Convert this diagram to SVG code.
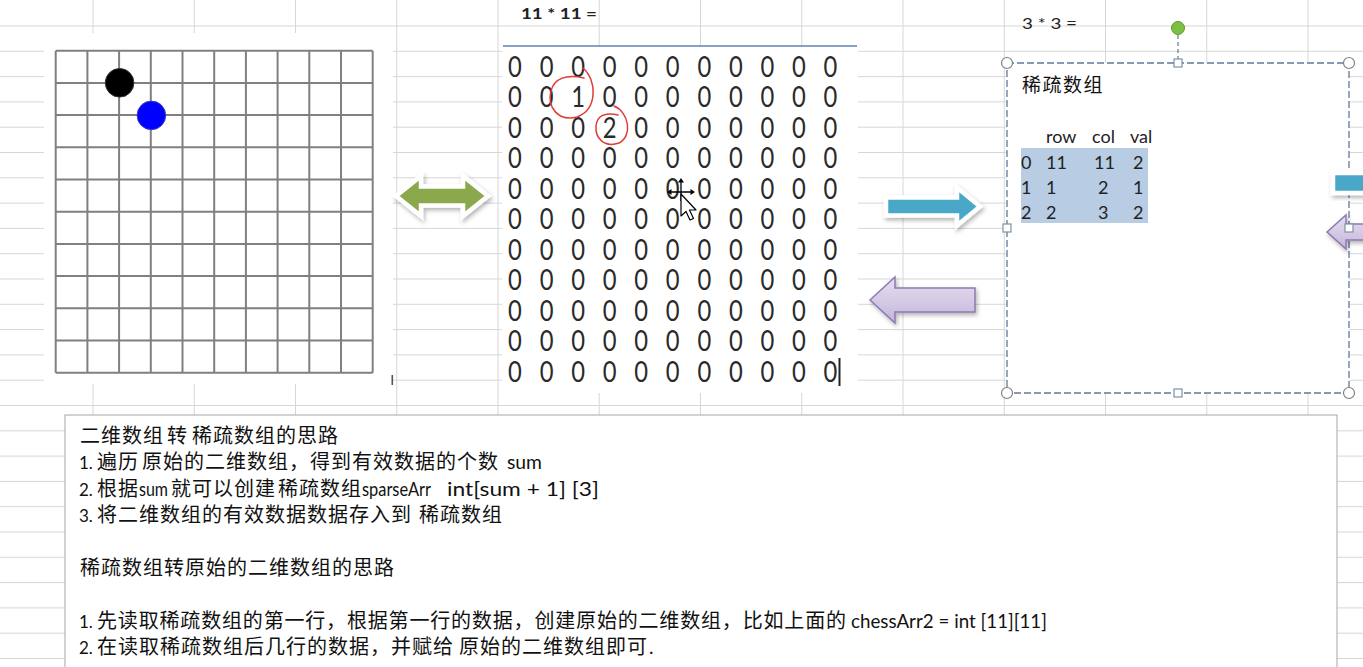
<svg xmlns="http://www.w3.org/2000/svg" width="1363" height="667" viewBox="0 0 1363 667">
<style>
.grid{stroke:#d7d7d7;stroke-width:1;fill:none}
.bl{stroke:#808080;stroke-width:2;fill:none}
.zero{font-family:Lato,"Liberation Sans",sans-serif;font-size:29px;fill:#2a2a2a;text-anchor:middle}
.cjk{font-family:"Noto Sans CJK SC",sans-serif;font-size:20px;letter-spacing:1px;fill:#111}
.lat{font-family:Lato,"Liberation Sans",sans-serif;font-size:19px;fill:#111}
.num{font-family:Lato,"Liberation Sans",sans-serif;font-size:17px;fill:#111}
.tb{font-family:Lato,"Liberation Sans",sans-serif;font-size:18px;fill:#222}
.hd{font-family:Lato,"Liberation Sans",sans-serif;font-size:16px;font-weight:bold;fill:#222}
.sel{fill:none;stroke:#62789a;stroke-width:1.3;stroke-dasharray:7 3}
.hc{fill:#fff;stroke:#808080;stroke-width:1.2}
.hs{fill:#fff;stroke:#7f91ab;stroke-width:1.2}
.red{fill:none;stroke:#e23a35;stroke-width:1.5;stroke-linecap:round}
.wa{stroke:#fff;stroke-width:4.5;stroke-linejoin:miter}
.pa{fill:url(#pg);stroke:#8e78b2;stroke-width:1.5;stroke-linejoin:miter}
</style>
<defs>
<filter id="sh" x="-20%" y="-30%" width="140%" height="170%">
<feDropShadow dx="1.5" dy="2.5" stdDeviation="2" flood-color="#000" flood-opacity="0.3"/>
</filter>
<linearGradient id="pg" x1="0" y1="0" x2="0" y2="1">
<stop offset="0" stop-color="#e6e0f0"/>
<stop offset="1" stop-color="#c3b5da"/>
</linearGradient>
</defs>
<rect width="1363" height="667" fill="#fff"/>
<g id="sheet-grid">
<path class="grid" d="M93 0V667M194.25 0V667M295.5 0V667M396.75 0V667M498 0V667M599.25 0V667M700.5 0V667M801.75 0V667M903 0V667M1004.25 0V667M1105.5 0V667M1206.75 0V667M1308 0V667"/>
<path class="grid" d="M0 26H1363M0 51.3H1363M0 76.6H1363M0 101.9H1363M0 127.2H1363M0 152.5H1363M0 177.8H1363M0 203.1H1363M0 228.4H1363M0 253.7H1363M0 279H1363M0 304.3H1363M0 329.6H1363M0 354.9H1363M0 380.2H1363M0 405.5H1363M0 430.8H1363M0 456.1H1363M0 481.4H1363M0 506.7H1363M0 532H1363M0 557.3H1363M0 582.6H1363M0 607.9H1363M0 633.2H1363M0 658.5H1363"/>
</g>
<g id="board">
<rect x="44" y="33" width="349" height="351" fill="#fff"/>
<path class="bl" d="M55.7 50.7V372.7M87.4 50.7V372.7M119.1 50.7V372.7M150.8 50.7V372.7M182.5 50.7V372.7M214.2 50.7V372.7M245.9 50.7V372.7M277.6 50.7V372.7M309.3 50.7V372.7M341 50.7V372.7M372.7 50.7V372.7"/>
<path class="bl" d="M55.7 50.7H372.7M55.7 82.9H372.7M55.7 115.1H372.7M55.7 147.3H372.7M55.7 179.5H372.7M55.7 211.7H372.7M55.7 243.9H372.7M55.7 276.1H372.7M55.7 308.3H372.7M55.7 340.5H372.7M55.7 372.7H372.7"/>
<circle cx="119.6" cy="82.8" r="14.3" fill="#000" stroke="#333" stroke-width="1"/>
<circle cx="151.4" cy="115.4" r="14.3" fill="#0000ff" stroke="#3a3ad0" stroke-width="1"/>
<line x1="392.3" y1="375" x2="392.3" y2="385" stroke="#555" stroke-width="1.6"/>
</g>
<g id="matrix">
<rect x="502" y="47" width="356" height="346" fill="#fff"/>
<text class="hd" x="521" y="19" textLength="76" lengthAdjust="spacingAndGlyphs">11 * 11 =</text>
<line x1="503" y1="46" x2="857" y2="46" stroke="#5b84b1" stroke-width="1.5"/>
<g transform="scale(0.82 1)">
<text class="zero" x="628.05 666.52 705 743.48 781.95 820.43 858.9 897.38 935.85 974.33 1012.8" y="77">00000000000</text>
<text class="zero" x="628.05 666.52 705 743.48 781.95 820.43 858.9 897.38 935.85 974.33 1012.8" y="107.5">00100000000</text>
<text class="zero" x="628.05 666.52 705 743.48 781.95 820.43 858.9 897.38 935.85 974.33 1012.8" y="138">00020000000</text>
<text class="zero" x="628.05 666.52 705 743.48 781.95 820.43 858.9 897.38 935.85 974.33 1012.8" y="168.5">00000000000</text>
<text class="zero" x="628.05 666.52 705 743.48 781.95 820.43 858.9 897.38 935.85 974.33 1012.8" y="199">00000000000</text>
<text class="zero" x="628.05 666.52 705 743.48 781.95 820.43 858.9 897.38 935.85 974.33 1012.8" y="229.5">00000000000</text>
<text class="zero" x="628.05 666.52 705 743.48 781.95 820.43 858.9 897.38 935.85 974.33 1012.8" y="260">00000000000</text>
<text class="zero" x="628.05 666.52 705 743.48 781.95 820.43 858.9 897.38 935.85 974.33 1012.8" y="290.5">00000000000</text>
<text class="zero" x="628.05 666.52 705 743.48 781.95 820.43 858.9 897.38 935.85 974.33 1012.8" y="321">00000000000</text>
<text class="zero" x="628.05 666.52 705 743.48 781.95 820.43 858.9 897.38 935.85 974.33 1012.8" y="351.5">00000000000</text>
<text class="zero" x="628.05 666.52 705 743.48 781.95 820.43 858.9 897.38 935.85 974.33 1012.8" y="382">00000000000</text>
</g>
<path class="red" d="M583 68 C597 80 598 109 577 117 C558 122 547 107 551 91 C554 78 567 74 584 78"/>
<path class="red" d="M614 106 C629 112 633 136 619 143 C604 148 595 138 596 126 C597 116 604 112 618 115"/>
<line x1="839.5" y1="358" x2="839.5" y2="386" stroke="#222" stroke-width="2"/>
<g id="mouse-cursor">
<path d="M670 192H692M681 181V201" stroke="#000" stroke-width="1.3"/>
<path d="M667 192L671.5 189V195ZM695 192L690.5 189V195ZM681 178L678 182.5H684Z" fill="#000"/>
<polygon points="681,194 681,216 686,211.5 690,220 693.5,218.5 689.5,210 696,210" fill="#fff" stroke="#000" stroke-width="1.2" stroke-linejoin="round"/>
</g>
</g>
<g id="sparse">
<text class="hd" x="1022" y="29" textLength="55" lengthAdjust="spacingAndGlyphs" style="font-weight:normal">3 * 3 =</text>
<rect x="1007" y="63" width="342" height="330" fill="#fff"/>
<text class="cjk" x="1022" y="92" style="font-size:19px;letter-spacing:1.5px">稀疏数组</text>
<text class="tb" y="143"><tspan x="1046">row</tspan><tspan x="1092">col</tspan><tspan x="1130">val</tspan></text>
<rect x="1021" y="148" width="127" height="75" fill="#b8cce4"/>
<text class="tb" y="168.5"><tspan x="1021">0</tspan><tspan x="1046">11</tspan><tspan x="1094">11</tspan><tspan x="1133">2</tspan></text>
<text class="tb" y="193.5"><tspan x="1021">1</tspan><tspan x="1046">1</tspan><tspan x="1098">2</tspan><tspan x="1133">1</tspan></text>
<text class="tb" y="218.5"><tspan x="1021">2</tspan><tspan x="1046">2</tspan><tspan x="1098">3</tspan><tspan x="1133">2</tspan></text>
<rect class="sel" x="1007" y="63" width="342" height="330"/>
</g>
<g id="connectors">
<polygon class="wa" filter="url(#sh)" fill="#8ca84e" points="396,196 421,176 421,186.5 463,186.5 463,176 488,196 463,216 463,205.5 421,205.5 421,216"/>
<polygon class="wa" filter="url(#sh)" fill="#4aa8c7" points="886,197.5 957,197.5 957,187.5 980,206.5 957,225.5 957,215.5 886,215.5"/>
<polygon class="pa" filter="url(#sh)" points="870,300 895,277 895,288 975,288 975,312 895,312 895,323"/>
<polygon class="wa" filter="url(#sh)" fill="#4aa8c7" points="1333,173 1370,173 1370,193 1333,193"/>
<polygon class="pa" filter="url(#sh)" points="1327,232 1346,215 1346,224 1370,224 1370,240 1346,240 1346,249"/>
</g>
<g id="selection-handles">
<line x1="1178" y1="35" x2="1178" y2="59" stroke="#62789a" stroke-width="1.2" stroke-dasharray="4 3"/>
<circle cx="1178" cy="28" r="6.5" fill="#7cc043" stroke="#5c9a2e" stroke-width="1"/>
<circle class="hc" cx="1007" cy="63" r="5.5"/>
<circle class="hc" cx="1349" cy="63" r="5.5"/>
<circle class="hc" cx="1007" cy="393" r="5.5"/>
<circle class="hc" cx="1349" cy="393" r="5.5"/>
<rect class="hs" x="1174" y="59" width="8" height="8"/>
<rect class="hs" x="1174" y="389" width="8" height="8"/>
<rect class="hs" x="1003" y="224" width="8" height="8"/>
<rect class="hs" x="1345" y="224" width="8" height="8"/>
</g>
<g id="notes">
<rect x="65" y="415" width="1272" height="260" fill="#fff" stroke="#a6a6a6" stroke-width="1"/>
<text class="cjk" y="443"><tspan x="80">二维数组</tspan><tspan x="167">转</tspan><tspan x="192">稀疏数组的思路</tspan></text>
<text class="num" x="79" y="469.4">1.</text>
<text class="cjk" y="469.4"><tspan x="97">遍历</tspan><tspan x="142">原始的二维数组，得到有效数据的个数</tspan></text>
<text class="lat" x="507" y="469.4" textLength="35" lengthAdjust="spacingAndGlyphs">sum</text>
<text class="num" x="79" y="495.8">2.</text>
<text class="cjk" y="495.8"><tspan x="97">根据</tspan><tspan x="171">就可以创建</tspan><tspan x="278">稀疏数组</tspan></text>
<text class="lat" x="139" y="495.8" textLength="29" lengthAdjust="spacingAndGlyphs">sum</text>
<text class="lat" x="362" y="495.8" textLength="69" lengthAdjust="spacingAndGlyphs">sparseArr</text>
<text class="lat" x="447" y="495.8" textLength="152" lengthAdjust="spacingAndGlyphs">int[sum + 1] [3]</text>
<text class="num" x="79" y="522.2">3.</text>
<text class="cjk" y="522.2"><tspan x="97">将二维数组的有效数据数据存入到</tspan><tspan x="419">稀疏数组</tspan></text>
<text class="cjk" x="80" y="575">稀疏数组转原始的二维数组的思路</text>
<text class="num" x="79" y="627.8">1.</text>
<text class="cjk" x="97" y="627.8" textLength="750" lengthAdjust="spacing">先读取稀疏数组的第一行，根据第一行的数据，创建原始的二维数组，比如上面的</text>
<text class="lat" x="851" y="627.8" textLength="196" lengthAdjust="spacingAndGlyphs">chessArr2 = int [11][11]</text>
<text class="num" x="79" y="654.2">2.</text>
<text class="cjk" y="654.2"><tspan x="97">在读取稀疏数组后几行的数据，并赋给</tspan><tspan x="459">原始的二维数组即可</tspan></text>
<text class="lat" x="649" y="654.2">.</text>
</g>
</svg>
